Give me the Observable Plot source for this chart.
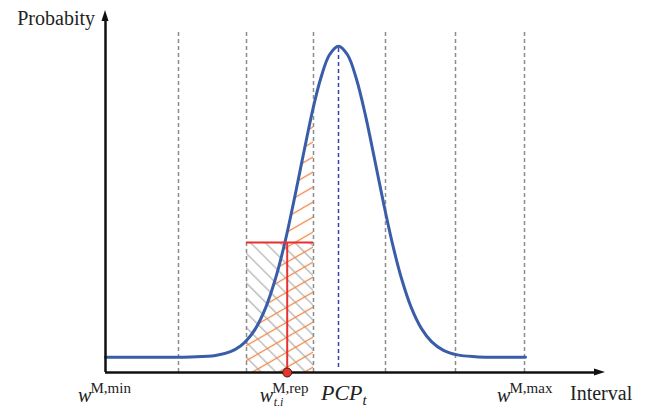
<!DOCTYPE html>
<html><head><meta charset="utf-8">
<script src="https://cdn.jsdelivr.net/npm/d3@7"></script>
<script src="https://cdn.jsdelivr.net/npm/@observablehq/plot@0.6"></script>
<style>body{margin:0;background:#fff}</style>
</head><body><div id="chart"></div>
<script>
// interval boundaries (x units) and distribution parameters
const boundaries = [73, 141, 208, 280, 350, 419];
const mu = 233;               // PCP_t (peak)
const peakY = 326;
const repX = 181.7;           // w_{t,i}^{M,rep}
const repY = 130;             // probability at rep
const hatchFrom = 141, hatchTo = 208;
const xMin = 0, xMax = 419;
// probability curve, points
const curveX = [0, 85, 110, 125, 135, 141, 150, 160, 170, 179.4, 188, 196, 203, 208, 215, 224, 233, 242, 251, 260, 269, 278, 287, 296, 306, 316, 326, 338, 352, 370, 385, 420];
const curveY = [15.3, 15.5, 16.9, 20.8, 26.5, 31.9, 43.9, 64.4, 94, 130, 169.6, 208.9, 243, 265.8, 293.3, 317.7, 326.3, 317.7, 293.3, 256.9, 213.8, 169.6, 128.6, 94, 64.4, 43.9, 30.9, 22.1, 17.6, 15.8, 15.3, 15.3];
const axisLabels = {y: "Probabity", x: "Interval"};

const curve = curveX.map((x, i) => ({x, y: curveY[i]}));
const underHatch = curve.filter(d => d.x >= hatchFrom && d.x <= hatchTo);

const chart = Plot.plot({
  width: 655, height: 406,
  marginLeft: 105, marginRight: 50, marginTop: 10, marginBottom: 34,
  x: {domain: [0, 500], axis: null},
  y: {domain: [0, 362], axis: null},
  style: {background: "#fff", overflow: "visible"},
  marks: [
    Plot.rect([{x1: hatchFrom, x2: hatchTo, y1: 0, y2: repY}], {x1: "x1", x2: "x2", y1: "y1", y2: "y2", fill: "url(#grayHatch)"}),
    Plot.areaY(underHatch, {x: "x", y: "y", fill: "url(#orangeHatch)", curve: "catmull-rom"}),
    Plot.ruleX(boundaries, {y1: 0, y2: 342, stroke: "#8c8c8c", strokeWidth: 1.5, strokeDasharray: "4,3"}),
    Plot.ruleX([mu], {y1: 5, y2: peakY, stroke: "#3b3fae", strokeWidth: 1.5, strokeDasharray: "4,3"}),
    Plot.line(curve, {x: "x", y: "y", stroke: "#3a5da9", strokeWidth: 3, curve: "catmull-rom"}),
    Plot.ruleY([repY], {x1: hatchFrom, x2: hatchTo, stroke: "#e8312f", strokeWidth: 2}),
    Plot.ruleX([repX], {y1: 0, y2: repY, stroke: "#e8312f", strokeWidth: 2}),
    Plot.ruleY([0], {x1: 0, x2: 492, stroke: "#111", strokeWidth: 2.5}),
    Plot.ruleX([0], {y1: 0, y2: 352, stroke: "#111", strokeWidth: 2.5}),
    Plot.dot([{x: repX, y: 0}], {x: "x", y: "y", r: 4.5, fill: "#e5352c", stroke: "#3a1a1a", strokeWidth: 1})
  ]
});

const svg = d3.select(chart);
const defs = svg.insert("defs", ":first-child");
const og = defs.append("pattern").attr("id", "orangeHatch").attr("patternUnits", "userSpaceOnUse")
  .attr("width", 13).attr("height", 13).attr("patternTransform", "rotate(-30)");
og.append("line").attr("x1", 0).attr("x2", 13).attr("y1", 6.5).attr("y2", 6.5).attr("stroke", "#f0874a").attr("stroke-width", 1.3);
const gg = defs.append("pattern").attr("id", "grayHatch").attr("patternUnits", "userSpaceOnUse")
  .attr("width", 10.5).attr("height", 10.5).attr("patternTransform", "rotate(45)");
gg.append("line").attr("x1", 0).attr("x2", 10.5).attr("y1", 5).attr("y2", 5).attr("stroke", "#b4b4b4").attr("stroke-width", 1.3);

const sx = chart.scale("x"), sy = chart.scale("y");
const x0 = sx.apply(0), y0 = sy.apply(0);
const xTip = sx.apply(500), yTip = sy.apply(362);
// arrowheads
svg.append("path").attr("d", `M${x0},${yTip} L${x0 - 3.5},${yTip + 11} L${x0 + 3.5},${yTip + 11} Z`).attr("fill", "#111");
svg.append("path").attr("d", `M${xTip},${y0} L${xTip - 11},${y0 - 3.5} L${xTip - 11},${y0 + 3.5} Z`).attr("fill", "#111");

const font = "'Liberation Serif', 'Times New Roman', serif";
function txt(x, y, parts, anchor = "start") {
  const t = svg.append("text").attr("x", x).attr("y", y).attr("font-family", font)
    .attr("fill", "#222").attr("text-anchor", anchor);
  parts.forEach(p => {
    const s = t.append("tspan").text(p.t).attr("font-size", p.size).attr("font-style", p.italic ? "italic" : "normal");
    if (p.y != null) s.attr("y", p.y);
    if (p.x != null) s.attr("x", p.x);
  });
  return t;
}
txt(x0 - 10, yTip + 15, [{t: axisLabels.y, size: 20}], "end");
txt(xTip - 35, 400, [{t: axisLabels.x, size: 20}]);
const mainY = 402, supY = 393, subY = 406;
function wLabel(cx, sup, sub) {
  const sxp = sx.apply(cx);
  txt(sxp - 27, mainY, [{t: "w", size: 20, italic: true}, {t: sup, size: 15, y: supY, x: sxp - 14.5}]);
  if (sub) txt(sxp - 13, subY, [{t: sub, size: 12, italic: true}]);
}
wLabel(xMin, "M,min");
wLabel(repX, "M,rep", "t,i");
wLabel(xMax, "M,max");
const mx = sx.apply(mu);
txt(mx - 17, 400, [{t: "PCP", size: 22, italic: true}, {t: "t", size: 15, italic: true, y: 405}]);

document.getElementById("chart").appendChild(chart);
</script>
</body></html>
